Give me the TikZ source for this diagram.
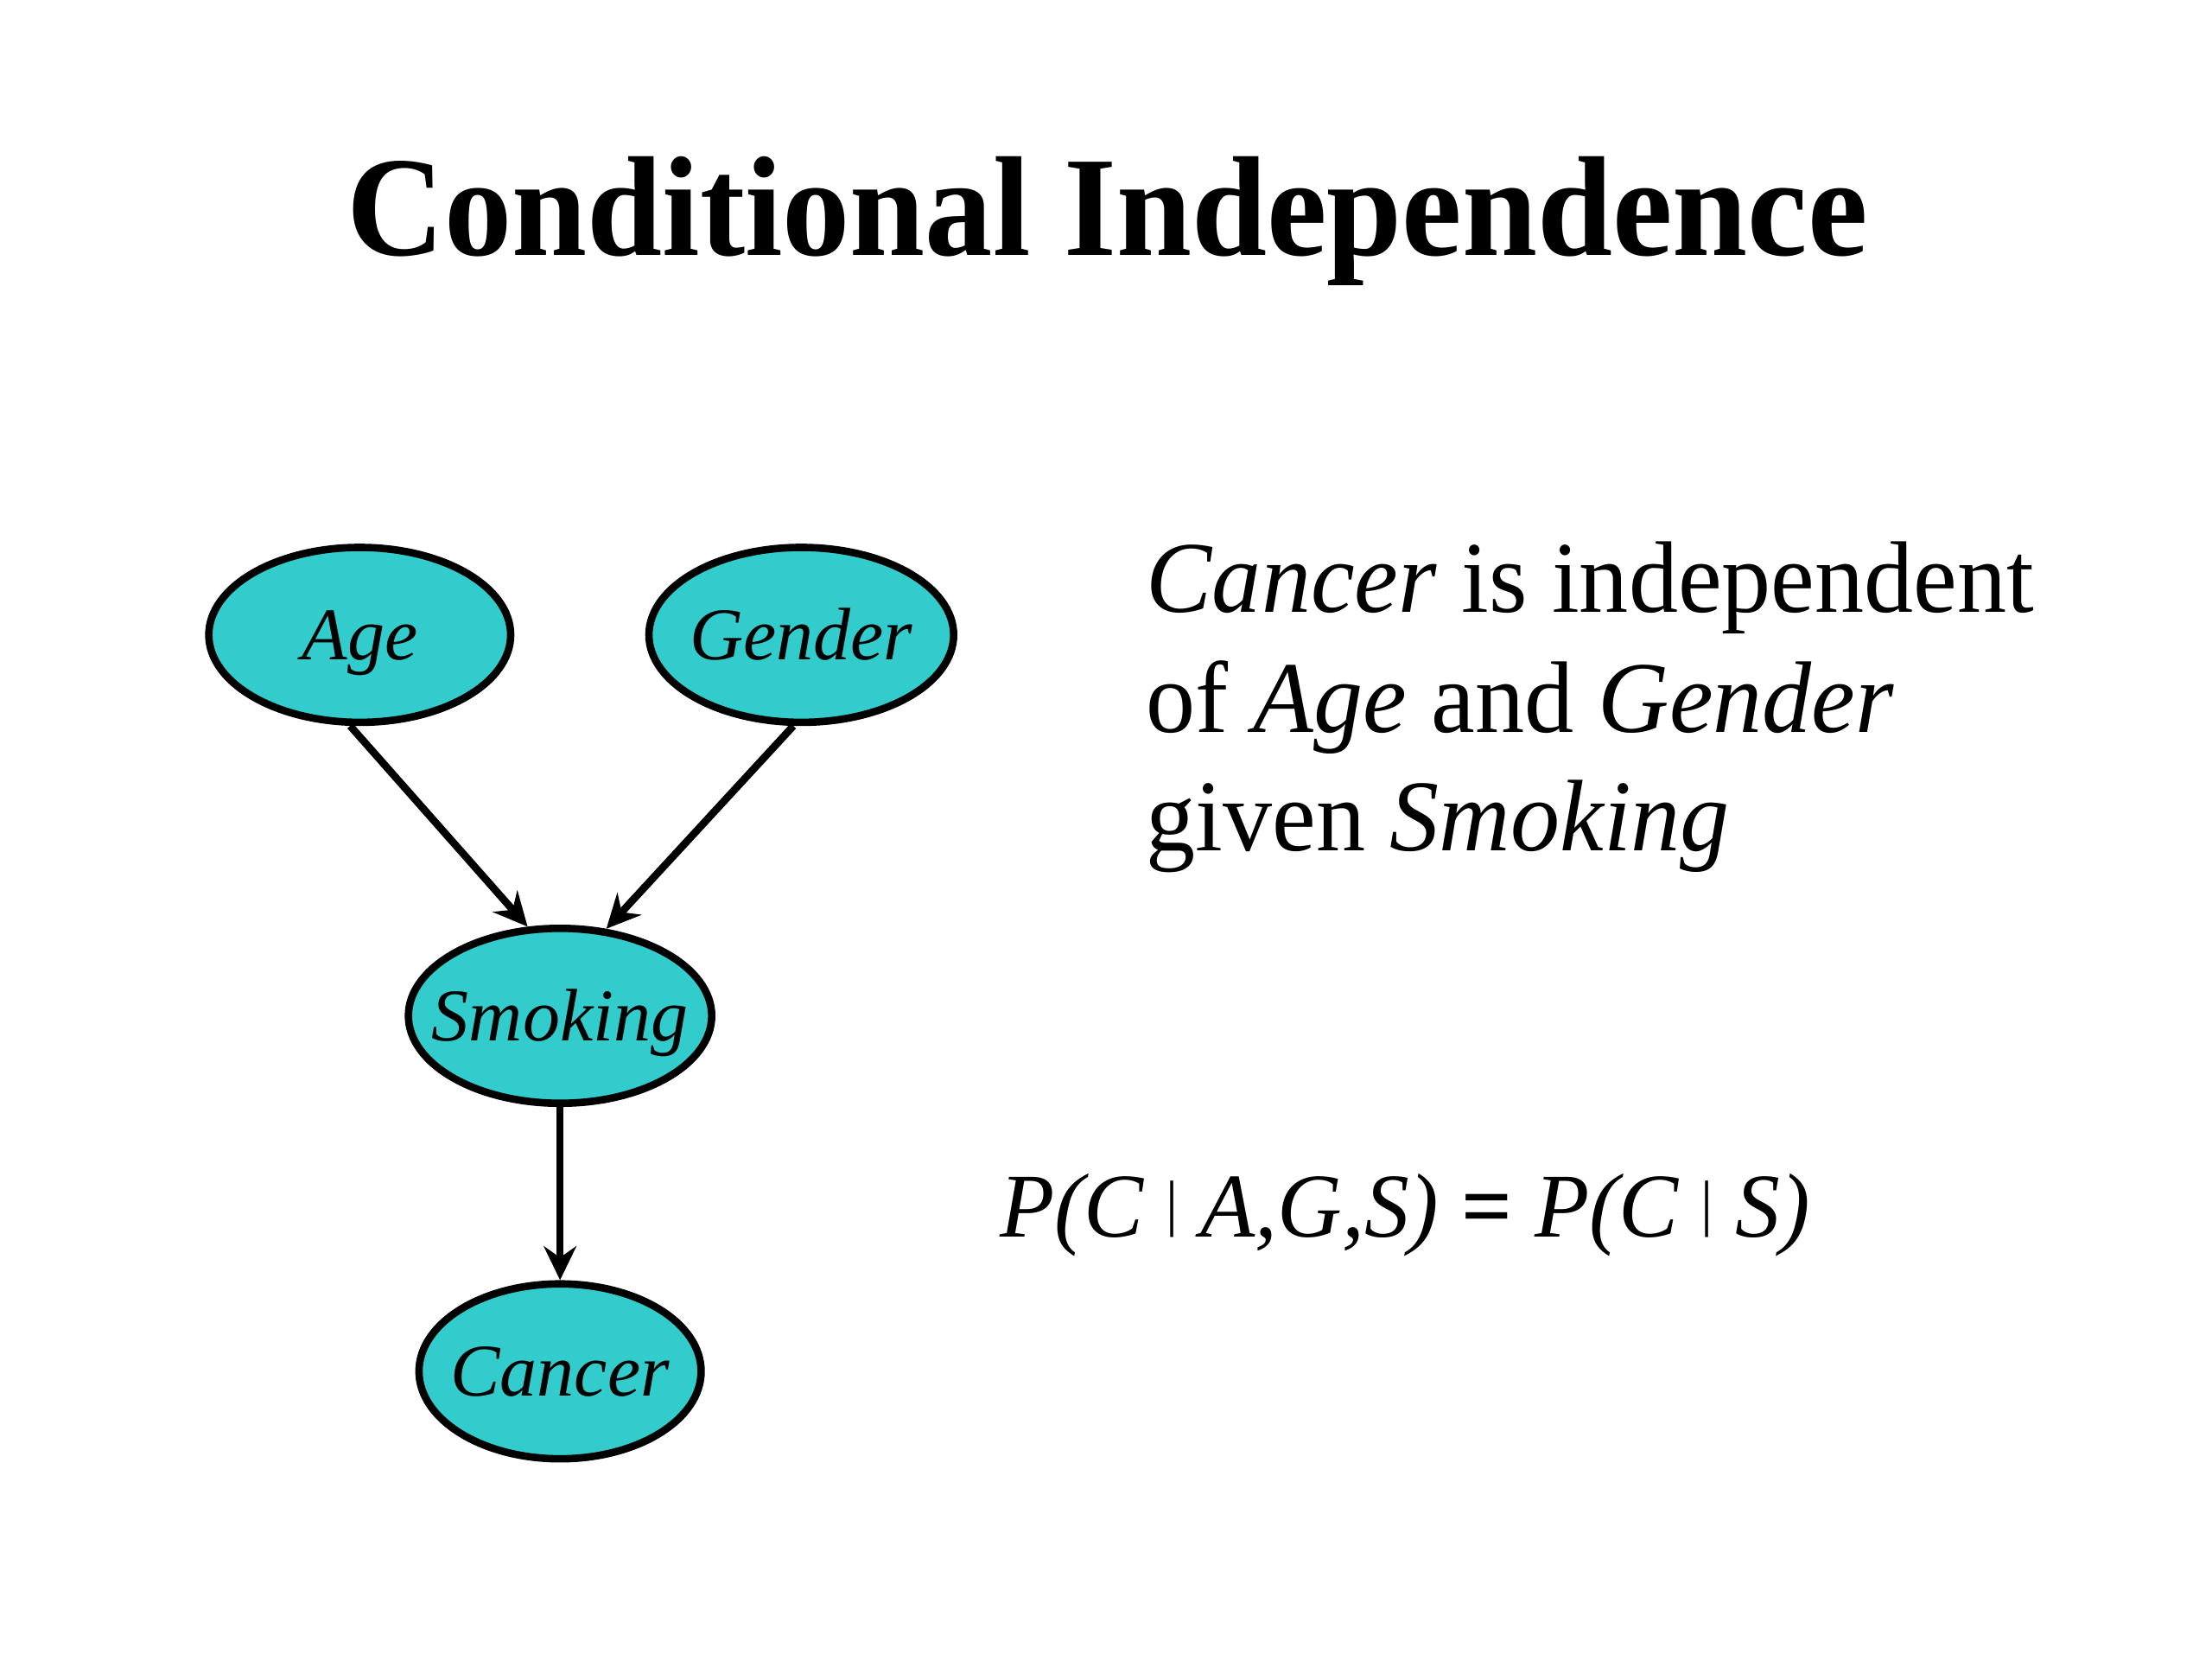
\documentclass[tikz,border=0pt]{standalone}
\usepackage{fontspec}
\usepackage{graphicx}
\setmainfont{Liberation Serif}
\newfontfamily\ttlfont[FakeStretch=0.95]{Liberation Serif}
\newfontfamily\txtfont[FakeStretch=0.97]{Liberation Serif}
\newfontfamily\eqfont[FakeStretch=0.98]{Liberation Serif}
\usetikzlibrary{shapes.geometric}
\usetikzlibrary{arrows.meta}
\definecolor{nodecyan}{RGB}{51,204,204}
\newcommand*{\pgwd}{1568}
\newcommand*{\pght}{1176}
\newcommand*{\ttlsize}{\fontsize{28.7}{34}\selectfont}
\newcommand*{\txtsize}{\fontsize{20.5}{24}\selectfont}
\newcommand*{\lblsize}{\fontsize{15}{18}\selectfont}
\newcommand*{\eqsize }{\fontsize{18.4}{22}\selectfont}
\newcommand*{\nlbl}[1]{\makebox[0pt]{#1}}
\newcommand*{\cbar}{\resizebox{!}{4mm}{\raisebox{\depth}{\upshape |}}}

\begin{document}
\begin{tikzpicture}[x=0.1mm, y=-0.1mm,
    var/.style={ellipse, draw=black, line width=1.5pt, fill=nodecyan, inner sep=0pt,
                minimum height=12.4mm, text height=3.5mm, text depth=0pt, font=\lblsize\itshape},
    link/.style={-{Stealth[length=2.4mm, width=2.3mm, inset=0.8mm]}, line width=1.5pt}]
    \useasboundingbox (0,0) rectangle (\pgwd,\pght);
    \node [anchor=base, font=\ttlfont\ttlsize\bfseries] (title) at (785,181) {Conditional Independence};
    % the network
    \node [var, minimum width=21.4mm] (age)     at (255,450) {\nlbl{Age}};
    \node [var, minimum width=21.6mm] (gender)  at (568,450) {\nlbl{Gender}};
    \node [var, minimum width=21.5mm] (smoking) at (397,720) {\nlbl{Smoking}};
    \node [var, minimum width=20.0mm] (cancer)  at (397,972) {\nlbl{Cancer}};
    \draw [link] (age.-96)       -- (smoking.110);
    \draw [link] (gender.-95)    -- (smoking.62);
    \draw [link] (smoking.south) -- (cancer.north);
    % the statement
    \node [anchor=base west, inner sep=0pt, font=\txtfont\txtsize] (line1) at (812,434) {\textit{Cancer} is independent};
    \node [anchor=base west, inner sep=0pt, font=\txtfont\txtsize] (line2) at (812,519) {of \textit{Age} and \textit{Gender}};
    \node [anchor=base west, inner sep=0pt, font=\txtfont\txtsize] (line3) at (812,603) {given \textit{Smoking}};
    \node [anchor=base west, inner sep=0pt, font=\eqfont\eqsize\itshape] (eqn) at (708,877)
        {P(C \cbar\ A,G,S) {\upshape\bfseries =} P(C \cbar\ S)};
\end{tikzpicture}
\end{document}
